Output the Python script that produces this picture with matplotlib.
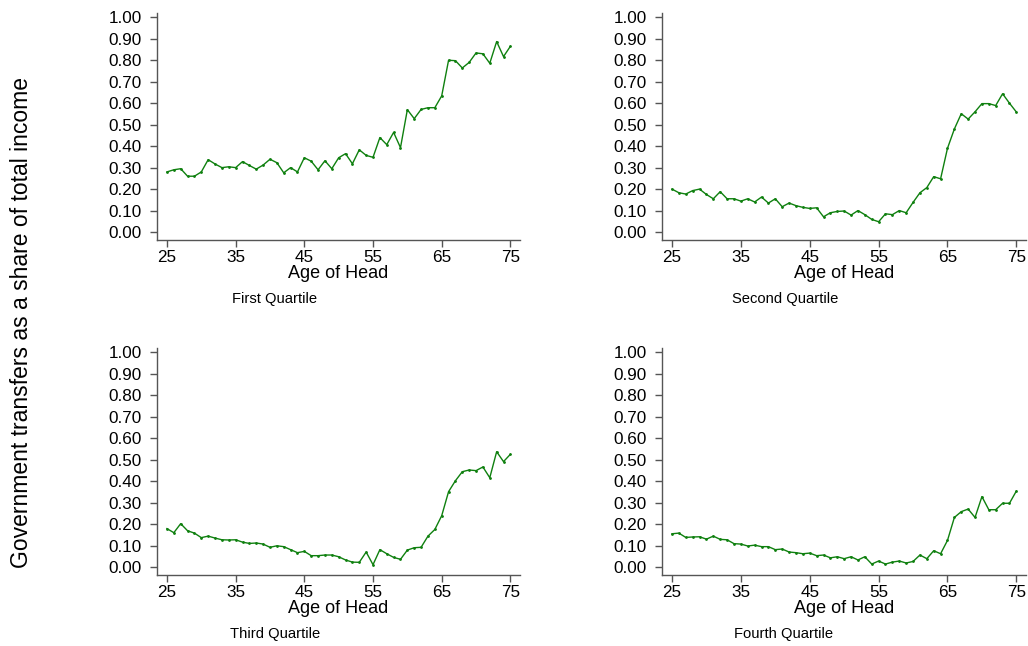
import numpy as np
import matplotlib
matplotlib.use('Agg')
import matplotlib.pyplot as plt

plt.rcParams['font.family'] = ['Liberation Sans', 'DejaVu Sans']

# Age of household head
ages = list(range(25, 76))

# Government transfers as share of total income, by income quartile
first_q = [0.28, 0.29, 0.295, 0.26, 0.26, 0.28, 0.337, 0.317, 0.30, 0.304,
           0.30, 0.328, 0.31, 0.293, 0.312, 0.339, 0.323, 0.276, 0.30, 0.28,
           0.346, 0.33, 0.29, 0.332, 0.295, 0.346, 0.365, 0.318, 0.383, 0.357,
           0.348, 0.44, 0.407, 0.464, 0.393, 0.57, 0.528, 0.571, 0.579, 0.579,
           0.634, 0.80, 0.798, 0.764, 0.79, 0.834, 0.83, 0.786, 0.887, 0.817,
           0.865]
second_q = [0.20, 0.183, 0.177, 0.193, 0.20, 0.175, 0.155, 0.188, 0.155, 0.155,
            0.144, 0.155, 0.14, 0.163, 0.135, 0.155, 0.118, 0.135, 0.123, 0.115,
            0.11, 0.113, 0.071, 0.09, 0.096, 0.098, 0.079, 0.10, 0.081, 0.059,
            0.048, 0.085, 0.081, 0.10, 0.09, 0.138, 0.183, 0.207, 0.258, 0.248,
            0.39, 0.48, 0.551, 0.526, 0.56, 0.598, 0.598, 0.589, 0.644, 0.60,
            0.559]
third_q = [0.179, 0.16, 0.202, 0.169, 0.158, 0.137, 0.144, 0.135, 0.127, 0.126,
           0.127, 0.116, 0.11, 0.112, 0.107, 0.092, 0.099, 0.095, 0.081, 0.067,
           0.073, 0.053, 0.053, 0.056, 0.056, 0.048, 0.033, 0.023, 0.022, 0.07,
           0.011, 0.081, 0.062, 0.045, 0.036, 0.079, 0.09, 0.092, 0.144, 0.175,
           0.239, 0.351, 0.402, 0.444, 0.452, 0.449, 0.466, 0.416, 0.537, 0.491,
           0.525]
fourth_q = [0.155, 0.158, 0.138, 0.14, 0.141, 0.13, 0.144, 0.129, 0.127, 0.109,
            0.107, 0.098, 0.102, 0.095, 0.095, 0.081, 0.084, 0.07, 0.067, 0.062,
            0.065, 0.053, 0.056, 0.043, 0.048, 0.039, 0.048, 0.033, 0.048, 0.014,
            0.028, 0.014, 0.023, 0.028, 0.019, 0.026, 0.056, 0.039, 0.076, 0.062,
            0.124, 0.231, 0.258, 0.27, 0.231, 0.328, 0.267, 0.267, 0.297, 0.297,
            0.354]

series = [first_q, second_q, third_q, fourth_q]
titles = ['First Quartile', 'Second Quartile', 'Third Quartile', 'Fourth Quartile']
x_ticks = [25, 35, 45, 55, 65, 75]
y_ticks = np.arange(0, 1.01, 0.1)

W, H = 1028, 646
fig = plt.figure(figsize=(W / 100, H / 100), dpi=100)

# panel boxes in pixels: left, right, top, bottom
boxes = [(157, 520, 13, 240), (662, 1026, 13, 240),
         (157, 520, 348, 575), (662, 1026, 348, 575)]
title_pos = [(275, 299), (785, 299), (275, 634), (784, 634)]

for vals, title, (l, r, t, b), (tx, ty) in zip(series, titles, boxes, title_pos):
    ax = fig.add_axes([l / W, 1 - b / H, (r - l) / W, (b - t) / H])
    ax.plot(ages, vals, color='#0f800f', lw=1.0, marker='o', ms=1.0)
    ax.set_xlim(23.55, 76.4)
    ax.set_ylim(-0.037, 1.02)
    ax.set_xticks(x_ticks)
    ax.set_yticks(y_ticks)
    ax.set_yticklabels([f'{v:.2f}' for v in y_ticks])
    ax.spines['top'].set_visible(False)
    ax.spines['right'].set_visible(False)
    for s in ['left', 'bottom']:
        ax.spines[s].set_color('#555555')
        ax.spines[s].set_linewidth(1.0)
    ax.tick_params(direction='out', length=5, width=1, color='#555555',
                   labelsize=12.3)
    ax.tick_params(axis='y', pad=6)
    ax.tick_params(axis='x', pad=2)
    ax.set_xlabel('Age of Head', fontsize=13, labelpad=0)
    fig.text(tx / W, 1 - ty / H, title, ha='center', va='center', fontsize=10.6)

fig.text(22 / W, 1 - 322 / H, 'Government transfers as a share of total income',
         rotation=90, ha='center', va='center', fontsize=16.5)

fig.savefig('out.png', dpi=100)
